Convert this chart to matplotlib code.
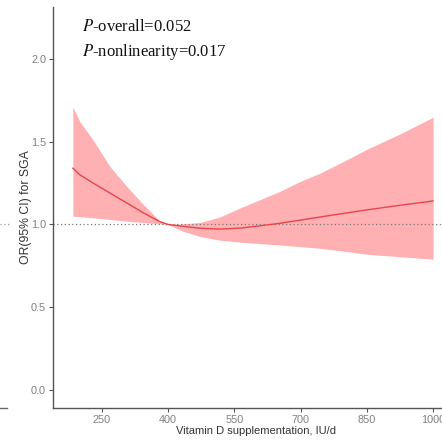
import matplotlib
matplotlib.use("Agg")
import matplotlib.pyplot as plt
from matplotlib.lines import Line2D

plt.rcParams["mathtext.fontset"] = "stix"

# Data
dose = [184, 200, 230, 268, 306, 344, 381, 400, 430, 472, 517, 563, 608, 653, 699, 744, 800, 850, 925, 1000]
or_est = [1.34, 1.30, 1.25, 1.19, 1.13, 1.07, 1.017, 1.00, 0.99, 0.977, 0.972, 0.978, 0.992, 1.007, 1.026, 1.045, 1.068, 1.088, 1.116, 1.142]
or_upper = [1.71, 1.62, 1.51, 1.35, 1.23, 1.12, 1.02, 1.00, 1.003, 1.012, 1.045, 1.10, 1.15, 1.20, 1.26, 1.31, 1.385, 1.454, 1.547, 1.648]
or_lower = [1.05, 1.047, 1.04, 1.03, 1.02, 1.012, 1.004, 1.00, 0.962, 0.927, 0.905, 0.893, 0.884, 0.876, 0.866, 0.856, 0.838, 0.82, 0.805, 0.79]
x_ticks = [250, 400, 550, 700, 850, 1000]
y_ticks = [0.0, 0.5, 1.0, 1.5, 2.0]
p_overall = "0.052"
p_nonlin = "0.017"

fig = plt.figure(figsize=(4.42, 4.46), dpi=100)
W, H = 442, 446
left_px, right_px, top_px, bottom_px = 53, 460, 7, 408
ax = fig.add_axes([left_px / W, 1 - bottom_px / H, (right_px - left_px) / W, (bottom_px - top_px) / H])

ax.fill_between(dose, or_lower, or_upper, color="#FFB0B2", linewidth=0, zorder=1)
ax.plot(dose, or_est, color="#E8444C", linewidth=1.0, zorder=3)
ax.axhline(1.0, color="#7a7a7a", linestyle=(0, (1, 2)), linewidth=0.9, zorder=2)

ax.set_xlim(139, 1061)
ax.set_ylim(-0.109, 2.314)
ax.set_xticks(x_ticks)
ax.set_yticks(y_ticks)
ax.set_xticklabels([str(v) for v in x_ticks], fontsize=7.8, family="Liberation Sans")
ax.set_yticklabels([f"{v:.1f}" for v in y_ticks], fontsize=7.8, family="Liberation Sans")

for s in ["top", "right"]:
    ax.spines[s].set_visible(False)
for s in ["left", "bottom"]:
    ax.spines[s].set_color("#555555")
    ax.spines[s].set_linewidth(1.0)
ax.tick_params(axis="both", colors="#555555", labelcolor="#808080",
               length=3, width=0.8, pad=2)

ax.set_xlabel("Vitamin D supplementation, IU/d", fontsize=8, family="Liberation Sans",
              color="#333333", labelpad=1)
ax.set_ylabel("OR(95% CI) for SGA", fontsize=8.8, family="Liberation Sans",
              color="#333333", labelpad=-1)

ax.text(82 / W, 1 - 31 / H, r"$\it{P}$" + "-overall=" + p_overall, transform=fig.transFigure,
        fontsize=12, family="Liberation Serif", color="#111111", va="baseline")
ax.text(82 / W, 1 - 56 / H, r"$\it{P}$" + "-nonlinearity=" + p_nonlin, transform=fig.transFigure,
        fontsize=12, family="Liberation Serif", color="#111111", va="baseline")

# fragments of the neighbouring panel at the left edge
fig.add_artist(Line2D([0, 10 / W], [1 - 224 / H, 1 - 224 / H], color="#9a9a9a",
                      linestyle=(0, (1, 2)), linewidth=0.9))
fig.add_artist(Line2D([0, 7 / W], [1 - 408 / H, 1 - 408 / H], color="#666666", linewidth=1.0))

fig.savefig("out.png", dpi=100)
